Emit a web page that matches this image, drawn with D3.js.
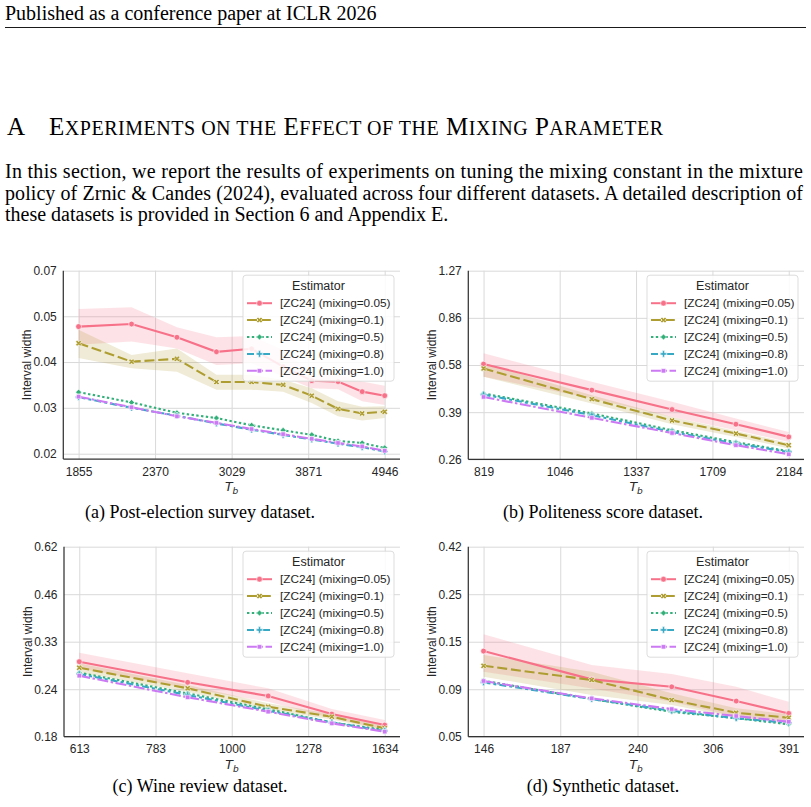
<!DOCTYPE html>
<html>
<head>
<meta charset="utf-8">
<script src="https://cdn.jsdelivr.net/npm/d3@7"></script>
<style>
  body { margin: 0; background: #fff; }
  svg text { font-family: "Liberation Sans", Arial, sans-serif; }
  svg text.serif { font-family: "Liberation Serif", "Times New Roman", serif; }
</style>
</head>
<body>
<svg id="page" width="811" height="807"></svg>
<script>
var svg = d3.select("#page");

// legend entries, shared by the four panels
var seriesNames = ["[ZC24] (mixing=0.05)", "[ZC24] (mixing=0.1)", "[ZC24] (mixing=0.5)",
                   "[ZC24] (mixing=0.8)", "[ZC24] (mixing=1.0)"];
var seriesColors = ["#f77189", "#ae9d31", "#33b07a", "#38a9c5", "#cc7af4"];
var seriesDash = ["none", "10,3.8", "2.4,2.4", "7,3,3,3", "11,2.5,2.5,2.5"];

// (a) post-election survey
var xA = [1855, 2198, 2542, 2885, 3229, 3572, 3915, 4259, 4602, 4946];
var xTicksA = [1855, 2370, 3029, 3871, 4946];
var yTicksA = [0.0205, 0.0277, 0.0374, 0.0505, 0.0681];
var yMinA = 0.0198;
var a005 = [0.0472, 0.0480, 0.0440, 0.0400, 0.0408, 0.0363, 0.0331, 0.0329, 0.0308, 0.0300];
var a005lo = [0.0419, 0.0428, 0.0409, 0.0367, 0.0371, 0.0340, 0.0315, 0.0313, 0.0289, 0.0282];
var a005hi = [0.0530, 0.0536, 0.0470, 0.0440, 0.0444, 0.0405, 0.0346, 0.0344, 0.0329, 0.0320];
var a01 = [0.0423, 0.0375, 0.0382, 0.0328, 0.0328, 0.0322, 0.0300, 0.0275, 0.0267, 0.0270];
var a01lo = [0.0384, 0.0359, 0.0351, 0.0312, 0.0312, 0.0308, 0.0286, 0.0262, 0.0255, 0.0259];
var a01hi = [0.0462, 0.0392, 0.0409, 0.0344, 0.0344, 0.0333, 0.0315, 0.0289, 0.0279, 0.0280];
var a05 = [0.0307, 0.0287, 0.0268, 0.0259, 0.0247, 0.0239, 0.0232, 0.0223, 0.0220, 0.0213];
var a08 = [0.0297, 0.0277, 0.0263, 0.0250, 0.0240, 0.0232, 0.0225, 0.0219, 0.0214, 0.0208];
var a10 = [0.0298, 0.0278, 0.0262, 0.0251, 0.0241, 0.0233, 0.0226, 0.0220, 0.0215, 0.0209];

// (b) politeness score
var xB = [819, 1160, 1501, 1843, 2184];
var xTicksB = [819, 1046, 1337, 1709, 2184];
var yTicksB = [0.2605, 0.3872, 0.5756, 0.8556, 1.2718];
var yMinB = 0.2605;
var b005 = [0.580, 0.466, 0.396, 0.350, 0.3145];
var b005lo = [0.521, 0.4345, 0.372, 0.3327, 0.3015];
var b005hi = [0.635, 0.500, 0.4224, 0.367, 0.328];
var b01 = [0.559, 0.432, 0.361, 0.3235, 0.2933];
var b01lo = [0.521, 0.4165, 0.350, 0.3145, 0.2853];
var b01hi = [0.586, 0.4467, 0.372, 0.3307, 0.299];
var b05 = [0.453, 0.383, 0.3327, 0.3008, 0.2788];
var b08 = [0.449, 0.3775, 0.328, 0.2975, 0.2771];
var b10 = [0.440, 0.369, 0.325, 0.2933, 0.2718];

// (c) wine review
var xC = [613, 868, 1124, 1379, 1634];
var xTicksC = [613, 783, 1000, 1278, 1634];
var yTicksC = [0.1795, 0.2448, 0.3340, 0.4555, 0.6213];
var yMinC = 0.1795;
var c005 = [0.293, 0.2561, 0.2342, 0.2081, 0.1937];
var c005lo = [0.2807, 0.2462, 0.2256, 0.2024, 0.1883];
var c005hi = [0.3108, 0.2716, 0.2462, 0.2150, 0.2002];
var c01 = [0.2818, 0.2462, 0.2183, 0.2045, 0.1896];
var c01lo = [0.2727, 0.2408, 0.2140, 0.2010, 0.1870];
var c01hi = [0.2900, 0.2516, 0.2233, 0.2081, 0.1925];
var c05 = [0.2727, 0.2383, 0.2147, 0.1971, 0.1875];
var c08 = [0.2704, 0.2357, 0.2127, 0.1971, 0.1863];
var c10 = [0.2674, 0.2322, 0.2114, 0.1959, 0.1855];

// (d) synthetic
var xD = [146, 207, 268, 330, 391];
var xTicksD = [146, 187, 240, 306, 391];
var yTicksD = [0.0518, 0.0875, 0.1479, 0.2500, 0.4225];
var yMinD = 0.0518;
var d005 = [0.1334, 0.0976, 0.0899, 0.0768, 0.0670];
var d005lo = [0.1062, 0.0883, 0.0762, 0.0646, 0.0589];
var d005hi = [0.1605, 0.1143, 0.1035, 0.0899, 0.0762];
var d01 = [0.1134, 0.0969, 0.0777, 0.0675, 0.0639];
var d01lo = [0.1005, 0.0821, 0.0735, 0.0641, 0.0611];
var d01hi = [0.1277, 0.1062, 0.0836, 0.0709, 0.0665];
var d05 = [0.0961, 0.0785, 0.0682, 0.0635, 0.0594];
var d08 = [0.0944, 0.0785, 0.0690, 0.0635, 0.0604];
var d10 = [0.0958, 0.0791, 0.0703, 0.0651, 0.0611];

var panels = [
  { x: xA, xTicks: xTicksA, yTicks: yTicksA, yMin: yMinA,
    means: [a005, a01, a05, a08, a10], bands: [[a005lo, a005hi], [a01lo, a01hi]],
    box: [63.3, 270.7, 400, 459], caption: "(a) Post-election survey dataset.", capX: 200, capY: 518 },
  { x: xB, xTicks: xTicksB, yTicks: yTicksB, yMin: yMinB,
    means: [b005, b01, b05, b08, b10], bands: [[b005lo, b005hi], [b01lo, b01hi]],
    box: [468.3, 270.7, 804, 459.3], caption: "(b) Politeness score dataset.", capX: 603, capY: 518 },
  { x: xC, xTicks: xTicksC, yTicks: yTicksC, yMin: yMinC,
    means: [c005, c01, c05, c08, c10], bands: [[c005lo, c005hi], [c01lo, c01hi]],
    box: [64, 546.7, 400, 736.7], caption: "(c) Wine review dataset.", capX: 200, capY: 791.5 },
  { x: xD, xTicks: xTicksD, yTicks: yTicksD, yMin: yMinD,
    means: [d005, d01, d05, d08, d10], bands: [[d005lo, d005hi], [d01lo, d01hi]],
    box: [468.3, 546.7, 804, 736.7], caption: "(d) Synthetic dataset.", capX: 603, capY: 791.5 }
];

// marker shapes like seaborn's defaults: o, X, diamond, P, square
function markerPath(k) {
  var types = [d3.symbolCircle, d3.symbolCross, d3.symbolSquare, d3.symbolCross, d3.symbolSquare];
  var sizes = [26, 22, 18, 24, 20];
  return d3.symbol().type(types[k]).size(sizes[k])();
}
function markerRot(k) {
  return (k == 1 || k == 2) ? 45 : 0;
}

// ---- page text ----
svg.append("text").attr("class", "serif")
   .attr("x", 5).attr("y", 20)
   .style("font-size", "20px")
   .text("Published as a conference paper at ICLR 2026");

svg.append("line")
   .attr("x1", 5).attr("x2", 806)
   .attr("y1", 27.5).attr("y2", 27.5)
   .attr("stroke", "#000").attr("stroke-width", 0.9);

svg.append("text").attr("class", "serif")
   .attr("x", 7).attr("y", 135)
   .style("font-size", "25px")
   .text("A");

var titleWords = [["E", "XPERIMENTS"], ["", "ON"], ["", "THE"], ["E", "FFECT"], ["", "OF"],
                  ["", "THE"], ["M", "IXING"], ["P", "ARAMETER"]];
var title = svg.append("text").attr("class", "serif")
   .attr("x", 49).attr("y", 135)
   .attr("textLength", 614).attr("lengthAdjust", "spacing");
titleWords.forEach(function(w, i) {
  if (w[0]) title.append("tspan").style("font-size", "25px").text((i > 0 ? " " : "") + w[0]);
  title.append("tspan").style("font-size", "20px").text((i > 0 && !w[0] ? " " : "") + w[1]);
});

var paraLines = [
  "In this section, we report the results of experiments on tuning the mixing constant in the mixture",
  "policy of Zrnic & Candes (2024), evaluated across four different datasets. A detailed description of",
  "these datasets is provided in Section 6 and Appendix E."
];
paraLines.forEach(function(t, i) {
  var tx = svg.append("text").attr("class", "serif")
     .attr("x", 5).attr("y", 178 + i * 21.7)
     .style("font-size", "20px")
     .text(t);
  if (i < 2) tx.attr("textLength", 798).attr("lengthAdjust", "spacing");
});

// ---- panels ----
panels.forEach(function(p) {
  var L = p.box[0], T = p.box[1], R = p.box[2], B = p.box[3];
  var ext = d3.extent(p.x);
  var padF = Math.pow(ext[1] / ext[0], 0.05);

  var xScale = d3.scaleLog().domain([ext[0] / padF, ext[1] * padF]).range([L, R]);
  var yScale = d3.scaleLog().domain([p.yMin, p.yTicks[p.yTicks.length - 1]]).range([B, T]);

  var g = svg.append("g");

  var xAxis = g.append("g")
     .attr("transform", "translate(0," + B + ")")
     .call(d3.axisBottom(xScale).tickValues(p.xTicks).tickFormat(d3.format("d"))
            .tickSizeInner(-(B - T)).tickSizeOuter(0).tickPadding(8));
  var yAxis = g.append("g")
     .attr("transform", "translate(" + L + ",0)")
     .call(d3.axisLeft(yScale).tickValues(p.yTicks).tickFormat(d3.format(".2f"))
            .tickSizeInner(-(R - L)).tickSizeOuter(0).tickPadding(6.5));

  [xAxis, yAxis].forEach(function(ax) {
    ax.selectAll(".tick line").attr("stroke", "#d9d9d9").attr("stroke-width", 1);
    ax.selectAll(".tick text").attr("fill", "#262626")
      .style("font-size", "12px").style("font-family", "'Liberation Sans', Arial, sans-serif");
    ax.select(".domain").remove();
  });

  // bands, then lines and markers per series
  var idx = d3.range(p.x.length);
  p.means.forEach(function(m, k) {
    if (p.bands[k]) {
      var lo = p.bands[k][0], hi = p.bands[k][1];
      g.append("path")
       .attr("d", d3.area()
          .x(function(i) { return xScale(p.x[i]); })
          .y0(function(i) { return yScale(lo[i]); })
          .y1(function(i) { return yScale(hi[i]); })(idx))
       .attr("fill", seriesColors[k]).attr("fill-opacity", 0.2);
    }
  });
  p.means.forEach(function(m, k) {
    g.append("path")
     .attr("d", d3.line()
        .x(function(i) { return xScale(p.x[i]); })
        .y(function(i) { return yScale(m[i]); })(idx))
     .attr("fill", "none")
     .attr("stroke", seriesColors[k]).attr("stroke-width", 2.1)
     .attr("stroke-dasharray", seriesDash[k]);
    g.selectAll(null).data(idx).enter().append("path")
     .attr("d", markerPath(k))
     .attr("transform", function(i) {
        return "translate(" + xScale(p.x[i]) + "," + yScale(m[i]) + ") rotate(" + markerRot(k) + ")";
     })
     .attr("fill", seriesColors[k]).attr("stroke", "#fff").attr("stroke-width", 0.6);
  });

  // spines
  g.append("line").attr("x1", L).attr("x2", L).attr("y1", T).attr("y2", B)
   .attr("stroke", "#333").attr("stroke-width", 1.25);
  g.append("line").attr("x1", L).attr("x2", R).attr("y1", B).attr("y2", B)
   .attr("stroke", "#333").attr("stroke-width", 1.25);

  // axis labels
  g.append("text")
   .attr("transform", "translate(" + (L - 32) + "," + ((T + B) / 2) + ") rotate(-90)")
   .attr("text-anchor", "middle")
   .attr("fill", "#262626")
   .style("font-size", "12px")
   .text("Interval width");
  var xl = g.append("text")
   .attr("x", (L + R) / 2).attr("y", B + 32)
   .attr("text-anchor", "middle")
   .attr("fill", "#262626")
   .style("font-size", "12.5px").style("font-family", "'DejaVu Sans', sans-serif");
  xl.append("tspan").style("font-style", "italic").text("T");
  xl.append("tspan").attr("dy", 3).style("font-style", "italic").style("font-size", "9px").text("b");

  // legend
  var lg = g.append("g").attr("transform", "translate(" + (R - 157) + "," + (T + 4.5) + ")");
  lg.append("rect")
    .attr("width", 151).attr("height", 106).attr("rx", 3)
    .attr("fill", "#fff").attr("fill-opacity", 0.85)
    .attr("stroke", "#d4d4d4").attr("stroke-width", 0.8);
  lg.append("text")
    .attr("x", 75.5).attr("y", 14.5)
    .attr("text-anchor", "middle").attr("fill", "#262626")
    .style("font-size", "12.5px")
    .text("Estimator");
  seriesNames.forEach(function(name, k) {
    var yy = 28 + k * 16.9;
    lg.append("line")
      .attr("x1", 4).attr("x2", 29).attr("y1", yy).attr("y2", yy)
      .attr("stroke", seriesColors[k]).attr("stroke-width", 2)
      .attr("stroke-dasharray", seriesDash[k]);
    lg.append("path")
      .attr("d", markerPath(k))
      .attr("transform", "translate(16.5," + yy + ") rotate(" + markerRot(k) + ")")
      .attr("fill", seriesColors[k]).attr("stroke", "#fff").attr("stroke-width", 0.6);
    lg.append("text")
      .attr("x", 37).attr("y", yy + 4)
      .attr("fill", "#262626")
      .style("font-size", "11.8px")
      .text(name);
  });

  // caption
  svg.append("text").attr("class", "serif")
     .attr("x", p.capX).attr("y", p.capY)
     .attr("text-anchor", "middle")
     .style("font-size", "18px")
     .text(p.caption);
});
</script>
</body>
</html>
